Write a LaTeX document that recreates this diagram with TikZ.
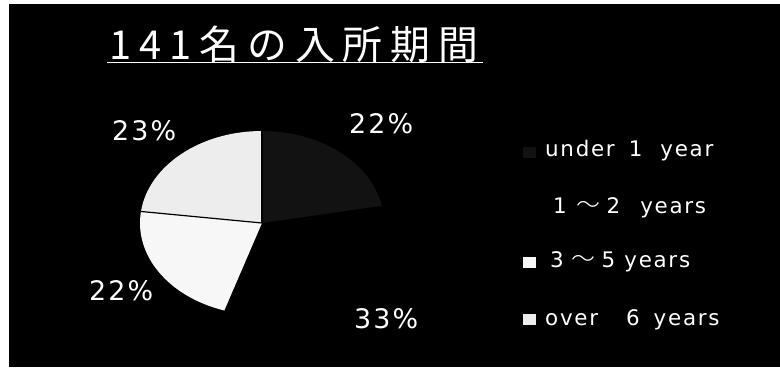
\documentclass[tikz,border=0pt]{standalone}
\usepackage{fontspec}
\setmainfont{DejaVu Sans}[LetterSpace=8]
\newfontfamily\jpfont{Noto Sans CJK JP}[LetterSpace=20]
\newfontfamily\tildefont{Noto Sans CJK JP Light}
\definecolor{darkslice}{gray}{0.07}
\definecolor{lightA}{gray}{0.93}
\definecolor{lightB}{gray}{0.97}
\tikzset{
  pct/.style={text=white, anchor=base west, inner sep=0pt, font=\fontsize{27}{30}\selectfont},
  leg/.style={text=white, anchor=base west, inner sep=0pt, font=\fontsize{21.5}{24}\selectfont},
  ttl/.style={text=white, anchor=base west, inner sep=0pt, font=\jpfont\fontsize{40}{44}\selectfont},
  legbox/.style={inner sep=0pt, minimum width=13bp, minimum height=11bp, anchor=south west},
  sep/.style={black, line width=1.2bp}
}
\newcommand{\wt}{{\tildefont\fontsize{24}{28}\selectfont ～}}
\begin{document}
\begin{tikzpicture}[x=1bp,y=-1bp]
\useasboundingbox (0,0) rectangle (780,367);
\fill[white] (0,0) rectangle (780,367);
\fill[black] (9,4) rectangle (780,367);
% title
\node[ttl] (title) at (109,59) {141名の入所期間};
\draw[white, line width=1bp] (107,62) -- (483,62);
% pie
\begin{scope}[shift={(262,223)}, y=1bp]
  \coordinate (c) at (0,0);
  \fill[darkslice] (c) -- (90:122 and 92) arc[start angle=90, end angle=10.8, x radius=122, y radius=92] -- cycle;
  \fill[lightB] (c) -- (-108:122 and 92) arc[start angle=-108, end angle=-187.2, x radius=122, y radius=92] -- cycle;
  \fill[lightA] (c) -- (172.8:122 and 92) arc[start angle=172.8, end angle=90, x radius=122, y radius=92] -- cycle;
  \coordinate (p1) at (172.8:122 and 92);
  \coordinate (p2) at (90:122 and 92);
  \draw[sep] (c) -- (p1);
  \draw[sep] (c) -- (p2);
\end{scope}
% percentage labels
\node[pct] (l23) at (112,140) {23\%};
\node[pct] (l22a) at (349,133) {22\%};
\node[pct] (l22b) at (89,300) {22\%};
\node[pct] (l33) at (354,328) {33\%};
% legend markers
\node[legbox, fill=darkslice] (m1) at (523,158) {};
\node[legbox, fill=black] (m2) at (523,214) {};
\node[legbox, fill=lightB] (m3) at (523,268) {};
\node[legbox, fill=lightA] (m4) at (523,325) {};
% legend texts
\node[leg] (t1) at (545,156) {under\hspace{14bp}1\hspace{18bp}year};
\node[leg] (t2) at (553,213) {1\hspace{10bp}\wt\hspace{6bp}2\hspace{20bp}years};
\node[leg] (t3) at (550,267) {3\hspace{8bp}\wt\hspace{6bp}5\hspace{9bp}years};
\node[leg] (t4) at (545,325) {over\hspace{28bp}6\hspace{14bp}years};
\end{tikzpicture}
\end{document}
